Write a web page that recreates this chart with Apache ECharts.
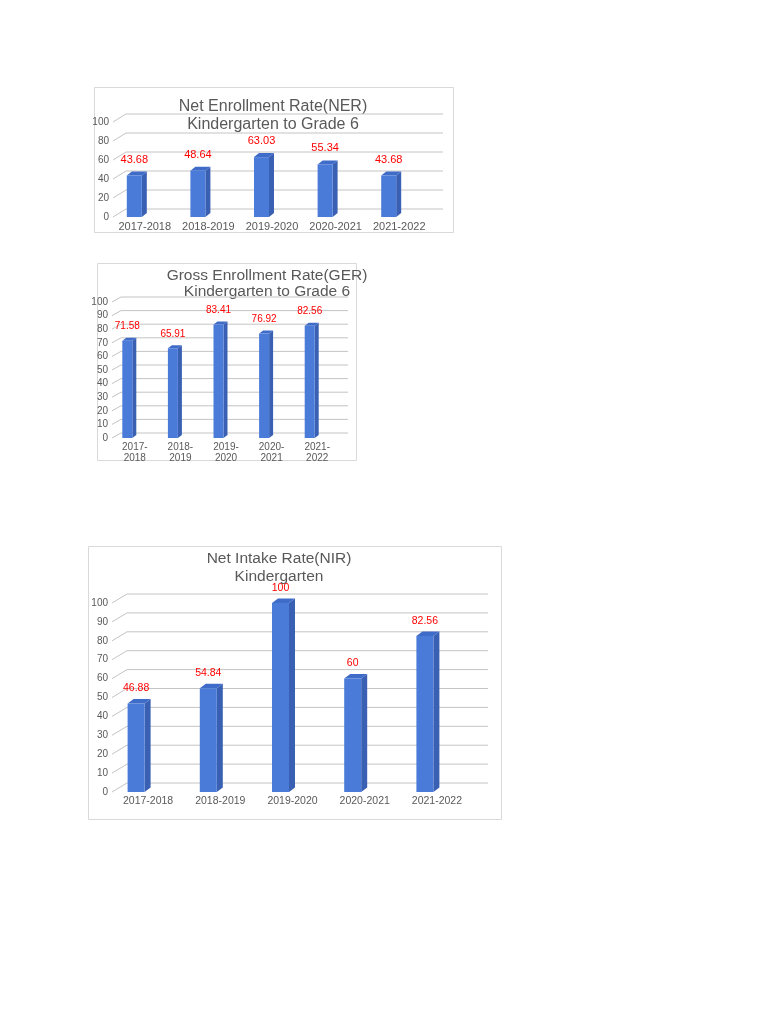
<!DOCTYPE html>
<html>
<head>
<meta charset="utf-8">
<script src="https://cdn.jsdelivr.net/npm/echarts@6/dist/echarts.min.js"></script>
<style>
  html, body { margin: 0; padding: 0; background: #fff; }
  #chart { width: 768px; height: 1024px; }
</style>
</head>
<body>
<div id="chart"></div>
<script>
const years = ['2017-2018', '2018-2019', '2019-2020', '2020-2021', '2021-2022'];
const nerValues = [43.68, 48.64, 63.03, 55.34, 43.68];
const gerValues = [71.58, 65.91, 83.41, 76.92, 82.56];
const nirValues = [46.88, 54.84, 100, 60, 82.56];
const nerTicks = [0, 20, 40, 60, 80, 100];
const gerTicks = [0, 10, 20, 30, 40, 50, 60, 70, 80, 90, 100];
const nirTicks = [0, 10, 20, 30, 40, 50, 60, 70, 80, 90, 100];

const FONT = 'Liberation Sans';
const TEXT = '#595959';
const GRID_LINE = '#c4c4c4';
const FRONT = '#4a7bd9';
const SIDE = '#3960b3';
const TOP = '#3f6cc8';

// per-chart look of the fake 3d
const looks = [
  { shift: -10.5, half: 7.5, dx: 5, dy: 4, wallX: 13, wallY: 8, extend: 12, labelGap: 16, labelSize: 11 },
  { shift: -7.5, half: 5, dx: 4, dy: 3, wallX: 9, wallY: 5, extend: 8, labelGap: 14, labelSize: 10 },
  { shift: -12, half: 8.5, dx: 6, dy: 4.5, wallX: 15, wallY: 9, extend: 15, labelGap: 15, labelSize: 10.5 }
];

function barRenderer(look) {
  return function (params, api) {
    const v = api.value(1);
    const top = api.coord([api.value(0), v]);
    const base = api.coord([api.value(0), 0]);
    const cx = top[0] + look.shift;
    const x0 = cx - look.half, x1 = cx + look.half;
    const yt = top[1], yb = base[1];
    const dx = look.dx, dy = look.dy;
    return {
      type: 'group',
      children: [
        { type: 'polygon', shape: { points: [[x1, yt], [x1 + dx, yt - dy], [x1 + dx, yb - dy], [x1, yb]] }, style: { fill: SIDE } },
        { type: 'polygon', shape: { points: [[x0, yt], [x0 + dx, yt - dy], [x1 + dx, yt - dy], [x1, yt]] }, style: { fill: TOP } },
        { type: 'rect', shape: { x: x0, y: yt, width: x1 - x0, height: yb - yt }, style: { fill: FRONT } },
        { type: 'text', style: { text: String(v), x: cx, y: yt - look.labelGap, fill: '#ff0000', fontFamily: FONT, fontSize: look.labelSize, align: 'center', verticalAlign: 'middle' } }
      ]
    };
  };
}

function wallRenderer(look) {
  return function (params, api) {
    const cs = params.coordSys;
    const y = api.coord([0, api.value(1)])[1];
    return {
      type: 'polyline',
      shape: { points: [[cs.x, y], [cs.x + look.wallX, y - look.wallY], [cs.x + cs.width + look.extend, y - look.wallY]] },
      style: { stroke: GRID_LINE, lineWidth: 1, fill: null }
    };
  };
}

const grids = [
  { left: 113, top: 122, width: 318, height: 95 },
  { left: 112, top: 302, width: 228, height: 136 },
  { left: 112, top: 603, width: 361, height: 189 }
];

const xAxes = grids.map((g, i) => ({
  type: 'category',
  gridIndex: i,
  data: years,
  axisLine: { show: false },
  axisTick: { show: false },
  axisLabel: {
    color: TEXT,
    fontFamily: FONT,
    fontSize: i === 1 ? 10 : (i === 0 ? 11 : 10.5),
    margin: 4,
    lineHeight: 11,
    interval: 0,
    formatter: i === 1 ? (s => s.replace('-', '-\n')) : (s => s)
  }
}));

const yAxes = grids.map((g, i) => ({
  type: 'value',
  gridIndex: i,
  min: 0,
  max: 100,
  interval: i === 0 ? 20 : 10,
  splitLine: { show: false },
  axisLine: { show: false },
  axisTick: { show: false },
  axisLabel: { color: TEXT, fontFamily: FONT, fontSize: 10, margin: 4 }
}));

const valueSets = [nerValues, gerValues, nirValues];
const tickSets = [nerTicks, gerTicks, nirTicks];

const series = [];
valueSets.forEach((vals, i) => {
  series.push({
    type: 'custom',
    xAxisIndex: i,
    yAxisIndex: i,
    z: 1,
    silent: true,
    clip: false,
    renderItem: wallRenderer(looks[i]),
    data: tickSets[i].map(t => [0, t])
  });
  series.push({
    type: 'custom',
    xAxisIndex: i,
    yAxisIndex: i,
    z: 2,
    clip: false,
    renderItem: barRenderer(looks[i]),
    data: vals.map((v, k) => [k, v])
  });
});

const titleText = (x, y, text, size, lh) => ({
  type: 'text', x: x, y: y,
  style: { text: text, fill: TEXT, fontFamily: FONT, fontSize: size, lineHeight: lh, align: 'center', verticalAlign: 'top' }
});
const box = (x, y, w, h) => ({
  type: 'rect', shape: { x: x + 0.5, y: y + 0.5, width: w, height: h },
  style: { fill: null, stroke: '#d9d9d9', lineWidth: 1 }, z: -1
});

const chart = echarts.init(document.getElementById('chart'), null, { renderer: 'canvas' });
chart.setOption({
  backgroundColor: '#ffffff',
  animation: false,
  grid: grids,
  xAxis: xAxes,
  yAxis: yAxes,
  series: series,
  graphic: [
    box(94, 87, 359, 145),
    box(97, 263, 259, 197),
    box(88, 546, 413, 273),
    titleText(273, 98, 'Net Enrollment Rate(NER)\nKindergarten to Grade 6', 16, 18),
    titleText(267, 267, 'Gross Enrollment Rate(GER)\nKindergarten to Grade 6', 15.5, 16.5),
    titleText(279, 550, 'Net Intake Rate(NIR)\nKindergarten', 15.5, 17.5)
  ]
});
</script>
</body>
</html>
